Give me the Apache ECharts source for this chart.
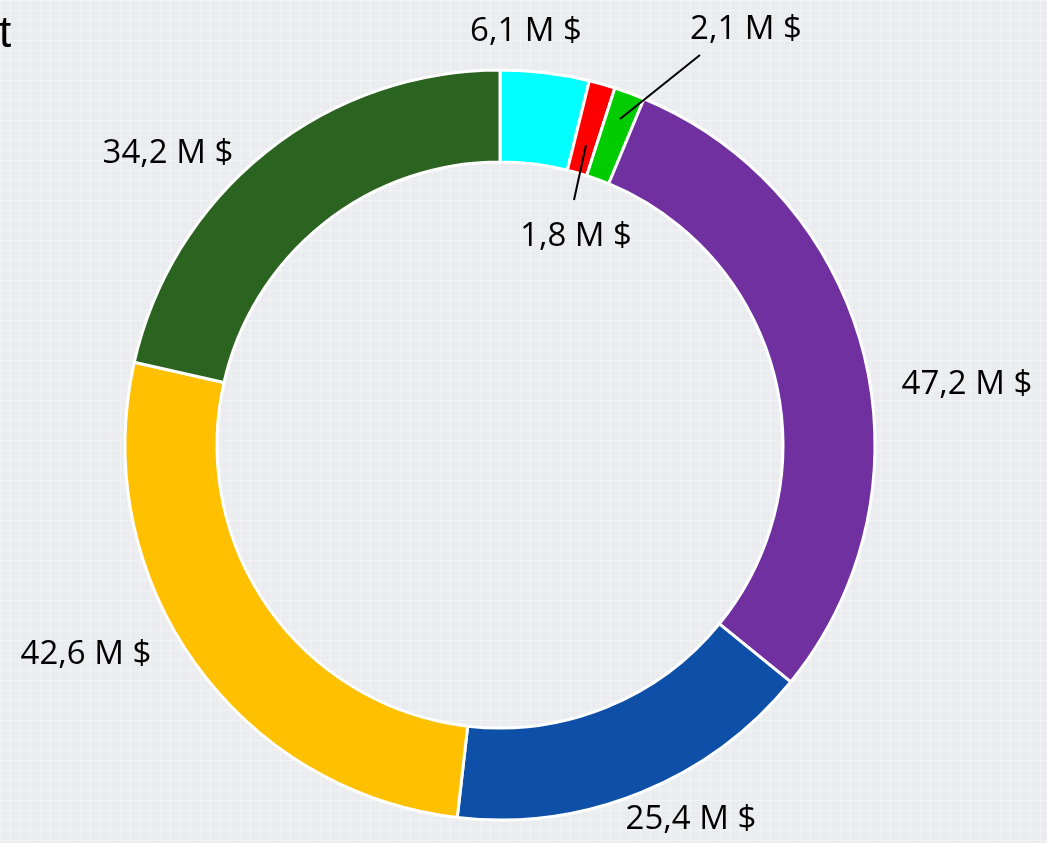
<!DOCTYPE html>
<html>
<head>
<meta charset="utf-8">
<script src="https://cdn.jsdelivr.net/npm/echarts@6/dist/echarts.min.js"></script>
<style>
  html, body { margin: 0; padding: 0; }
  body {
    background-color: #eaecef;
    background-image:
      linear-gradient(rgba(255,255,255,0.3) 1px, transparent 1px),
      linear-gradient(90deg, rgba(255,255,255,0.3) 1px, transparent 1px);
    background-size: 10px 10px;
  }
  #chart { width: 1047px; height: 843px; }
</style>
</head>
<body>
<div id="chart"></div>
<script>
  // slices, clockwise from 12 o'clock
  var values = [6.1, 1.8, 2.1, 47.2, 25.4, 42.6, 34.2];
  var labels = ["6,1 M $", "1,8 M $", "2,1 M $", "47,2 M $", "25,4 M $", "42,6 M $", "34,2 M $"];
  var colors = ["#00ffff", "#ff0000", "#00cc00", "#7030a0", "#0e4fa8", "#ffc000", "#2b6320"];

  // where each value label sits (centre of text)
  var labelSpots = [[526, 32], [576, 237], [746, 30], [967, 385], [691, 820], [86, 655], [168, 154]];
  // leader lines for the two thin slices, drawn over the ring
  var leaderLines = [
    [[586, 145], [574, 200]],
    [[620, 119], [700, 55]]
  ];

  var myChart = echarts.init(document.getElementById("chart"));

  var pieData = values.map(function (v, i) {
    return {
      value: v,
      name: labels[i],
      itemStyle: { color: colors[i] }
    };
  });

  var option = {
    animation: false,
    title: {
      text: "t",
      left: -1,
      top: 13,
      padding: 0,
      textStyle: {
        fontFamily: "Liberation Sans",
        fontSize: 44,
        fontWeight: "normal",
        color: "#000"
      }
    },
    graphic: leaderLines.map(function (pts) {
      return {
        type: "polyline",
        z: 100,
        shape: { points: pts },
        style: { stroke: "#000", lineWidth: 2, fill: null }
      };
    }),
    series: [
      {
        type: "pie",
        center: [500, 445],
        radius: [283, 375],
        startAngle: 90,
        clockwise: true,
        avoidLabelOverlap: false,
        itemStyle: {
          borderColor: "#fff",
          borderWidth: 3
        },
        label: {
          show: true,
          position: "outside",
          formatter: "{b}",
          fontFamily: "Open Sans",
          fontSize: 33,
          color: "#000"
        },
        labelLine: { show: false },
        labelLayout: function (p) {
          var s = labelSpots[p.dataIndex];
          return { x: s[0], y: s[1], align: "center", verticalAlign: "middle" };
        },
        data: pieData
      }
    ]
  };
  myChart.setOption(option);
  window.addEventListener("resize", function () {
    myChart.resize();
  });
</script>
</body>
</html>
